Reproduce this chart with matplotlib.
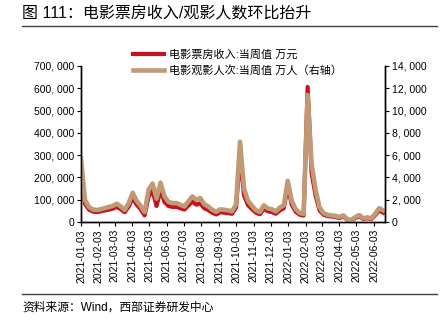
import matplotlib
matplotlib.use("Agg")
import matplotlib.pyplot as plt
import matplotlib.dates as mdates
from matplotlib.lines import Line2D
from matplotlib.ticker import FuncFormatter, MultipleLocator
import pandas as pd

plt.rcParams['font.family'] = ['Liberation Sans', 'Noto Sans CJK SC']

# weekly data, first week 2021-01-03
start_date = '2021-01-03'
box_office = [230000, 82000, 56000, 47000, 45000, 48000, 52000, 56000, 60000, 68000,
              58000, 44000, 70000, 108000, 78000, 58000, 30000, 115000, 140000, 72000,
              145000, 90000, 72000, 68000, 68000, 62000, 56000, 74000, 92000, 78000,
              84000, 62000, 54000, 42000, 34000, 44000, 42000, 40000, 37000, 65000,
              300000, 120000, 76000, 58000, 42000, 35000, 60000, 48000, 45000, 37000,
              52000, 62000, 160000, 78000, 46000, 33000, 29000, 606000, 220000, 120000,
              52000, 33000, 27000, 25000, 23000, 18000, 25000, 10000, 7000, 18000,
              26000, 13000, 17000, 13000, 31000, 52000, 42000]
audience = [5700, 1970, 1350, 1120, 1080, 1150, 1250, 1350, 1450, 1650,
            1400, 1080, 1700, 2630, 1900, 1450, 900, 2900, 3450, 2100,
            3530, 2300, 1800, 1700, 1700, 1550, 1400, 1850, 2300, 2000,
            2150, 1600, 1400, 1100, 920, 1140, 1100, 1050, 960, 1600,
            7200, 3000, 1900, 1450, 1050, 900, 1500, 1220, 1150, 950,
            1300, 1500, 3700, 1900, 1150, 820, 720, 11400, 5200, 2900,
            1300, 800, 650, 600, 550, 450, 600, 250, 180, 450,
            630, 330, 420, 330, 750, 1250, 1050]
dates = pd.date_range(start_date, periods=len(box_office), freq='7D')

red = '#C8101E'
tan = '#BF9A74'

fig = plt.figure(figsize=(4.41, 3.28), dpi=100)
ax = fig.add_axes([0.1837, 0.323, 0.689, 0.476])
ax2 = ax.twinx()

ax.plot(dates, box_office, color=red, lw=3.0, solid_joinstyle='round')
ax2.plot(dates, audience, color=tan, lw=3.3, solid_joinstyle='round')

ax.set_ylim(0, 700000)
ax2.set_ylim(0, 14000)
ax.yaxis.set_major_locator(MultipleLocator(100000))
ax2.yaxis.set_major_locator(MultipleLocator(2000))
fmt = FuncFormatter(lambda v, p: '{:,}'.format(int(v)).replace(',', ', '))
ax.yaxis.set_major_formatter(fmt)
ax2.yaxis.set_major_formatter(fmt)

ax.set_xlim(dates[0], pd.Timestamp('2022-06-22'))
ax.xaxis.set_major_locator(mdates.MonthLocator(bymonthday=3))
ax.xaxis.set_major_formatter(mdates.DateFormatter('%Y-%m-%d'))
for lab in ax.get_xticklabels():
    lab.set_rotation(90)

for a in (ax, ax2):
    a.spines['top'].set_visible(False)
    for s in a.spines.values():
        s.set_linewidth(1.0)
    a.tick_params(labelsize=7.5, length=3, width=0.8, pad=2)
ax.tick_params(axis='x', labelsize=7.5)

handles = [Line2D([], [], color=red, lw=3.0),
           Line2D([], [], color=tan, lw=3.3)]
labels = ['电影票房收入:当周值 万元', '电影观影人次:当周值 万人（右轴）']
fig.legend(handles, labels, loc='upper left', bbox_to_anchor=(0.288, 0.865),
           frameon=False, fontsize=8, handlelength=2.8, handletextpad=0.5,
           labelspacing=0.45, borderpad=0)

fig.text(0.05, 0.957, '图 111：电影票房收入/观影人数环比抬升', fontsize=11.5,
         va='center', ha='left')
fig.add_artist(Line2D([0.05, 0.99], [0.921, 0.921], color='#404040', lw=1.0))
fig.add_artist(Line2D([0.05, 0.99], [0.104, 0.104], color='#404040', lw=1.0))
fig.text(0.05, 0.061, '资料来源：Wind，西部证券研发中心', fontsize=8.5,
         va='center', ha='left')

fig.savefig('out.png', dpi=100)
